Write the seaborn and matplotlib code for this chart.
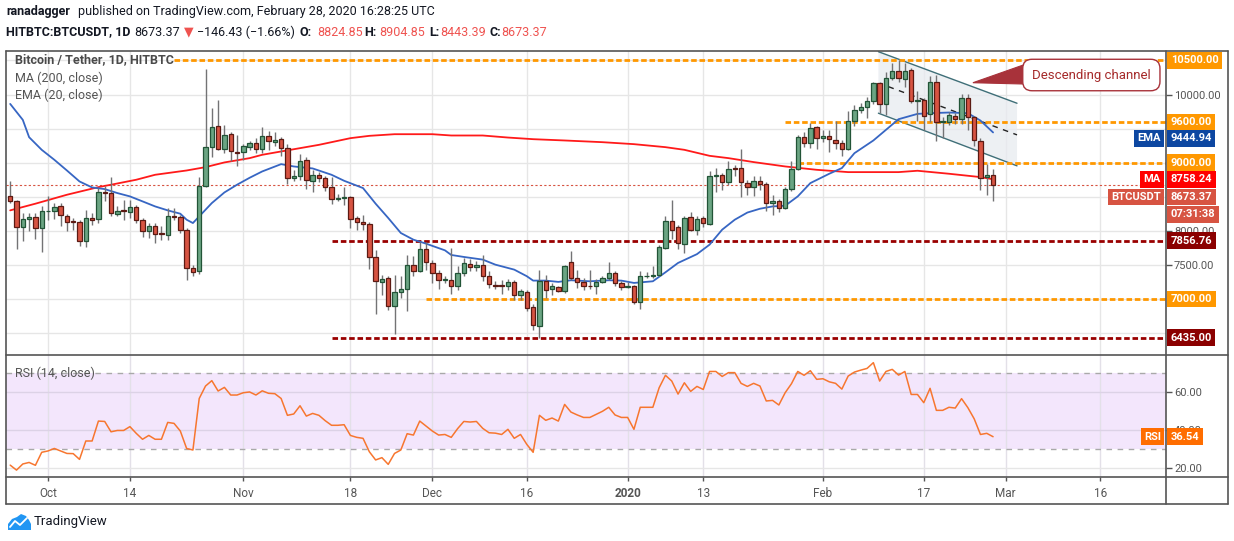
import numpy as np
import pandas as pd
import matplotlib
matplotlib.use("Agg")
import matplotlib.pyplot as plt
from matplotlib.patches import Polygon
from matplotlib.lines import Line2D
import seaborn as sns

W, H = 1234, 541

# ---- values (daily candles, first one = 2019-09-25) ----
first_day = "2019-09-25"
origin = "2019-10-01"

opens = [8516, 8434, 8058, 8175, 8204, 8043, 8292, 8300, 8370, 8224,
         8150, 8131, 7848, 8190, 8175, 8570, 8556, 8243, 8312, 8272,
         8350, 8155, 7994, 8077, 7970, 7940, 8224, 8204, 8019, 7453,
         7413, 8663, 9229, 9536, 9205, 9419, 9156, 9156, 9229, 9288,
         9200, 9390, 9302, 9346, 9214, 8775, 8809, 9039, 8736, 8819,
         8775, 8643, 8468, 8482, 8497, 8190, 8131, 8102, 7619, 7248,
         7311, 6896, 7106, 7155, 7502, 7409, 7736, 7531, 7384, 7287,
         7287, 7189, 7384, 7521, 7467, 7497, 7336, 7209, 7205, 7194,
         7253, 7057, 7106, 6886, 6603, 7272, 7150, 7179, 7116, 7550,
         7306, 7253, 7199, 7199, 7253, 7311, 7384, 7238, 7179, 7199,
         6955, 7336, 7346, 7350, 7750, 8141, 8053, 7809, 8199, 8019,
         8190, 8102, 8800, 8819, 8712, 8927, 8927, 8702, 8643, 8726,
         8683, 8409, 8434, 8336, 8614, 8907, 9375, 9297, 9522, 9361,
         9390, 9336, 9297, 9200, 9619, 9771, 9824, 9902, 10166, 9859,
         10239, 10342, 10225, 10356, 9912, 9922, 9712, 10180, 9605, 9605,
         9683, 9649, 9946, 9668, 9317, 8790, 8824.85]
closes = [8434, 8058, 8175, 8204, 8043, 8292, 8300, 8350, 8233, 8131,
          8131, 7848, 8190, 8155, 8570, 8560, 8263, 8292, 8292, 8350,
          8155, 7994, 8077, 7955, 7955, 8224, 8204, 8019, 7453, 7394,
          8663, 9229, 9522, 9205, 9405, 9170, 9136, 9244, 9288, 9200,
          9390, 9317, 9336, 9214, 8775, 8809, 9029, 8751, 8819, 8775,
          8643, 8468, 8482, 8497, 8175, 8131, 8102, 7619, 7272, 7297,
          6896, 7106, 7155, 7502, 7409, 7736, 7546, 7384, 7287, 7290,
          7189, 7384, 7531, 7467, 7497, 7336, 7223, 7194, 7194, 7248,
          7057, 7121, 6872, 6618, 7272, 7140, 7199, 7116, 7492, 7306,
          7253, 7199, 7195, 7253, 7311, 7384, 7238, 7179, 7189, 6955,
          7336, 7346, 7350, 7765, 8141, 8019, 7824, 8190, 8019, 8175,
          8116, 8809, 8819, 8712, 8912, 8912, 8712, 8643, 8736, 8683,
          8409, 8434, 8336, 8614, 8907, 9375, 9297, 9507, 9361, 9395,
          9346, 9288, 9200, 9619, 9771, 9824, 9902, 10166, 9859, 10239,
          10342, 10239, 10342, 9912, 9922, 9693, 10180, 9605, 9610, 9697,
          9649, 9946, 9668, 9331, 8775, 8819, 8673.37]
highs = [8726, 8450, 8263, 8263, 8263, 8360, 8507, 8409, 8409, 8253,
         8190, 8165, 8312, 8263, 8629, 8653, 8785, 8365, 8458, 8458,
         8385, 8190, 8116, 8116, 8068, 8336, 8336, 8238, 8043, 7506,
         8785, 10371, 9800, 9922, 9556, 9458, 9405, 9278, 9312, 9361,
         9522, 9468, 9449, 9375, 9278, 8887, 9131, 9083, 8887, 8858,
         8800, 8790, 8546, 8643, 8507, 8224, 8238, 8126, 7726, 7360,
         7336, 7360, 7336, 7653, 7628, 7843, 7833, 7580, 7433, 7336,
         7755, 7482, 7604, 7590, 7565, 7653, 7409, 7272, 7287, 7297,
         7277, 7150, 7131, 6935, 7433, 7360, 7238, 7199, 7506, 7702,
         7433, 7311, 7433, 7297, 7345, 7541, 7409, 7262, 7248, 7214,
         7409, 7394, 7492, 7799, 8214, 8458, 8092, 8214, 8277, 8214,
         8224, 8873, 8922, 8848, 9019, 8970, 9205, 8741, 8809, 8800,
         8712, 8531, 8468, 8643, 9019, 9410, 9458, 9590, 9541, 9483,
         9483, 9619, 9336, 9761, 9849, 9883, 9971, 10190, 10190, 10327,
         10459, 10508, 10468, 10386, 10054, 9946, 10273, 10283, 9678, 9751,
         9727, 10010, 10010, 9688, 9370, 8985, 8904.85]
lows = [8410, 7741, 7848, 7994, 7882, 7692, 8165, 8175, 8068, 7994,
        8019, 7775, 7760, 8092, 8116, 8434, 8214, 8214, 8165, 8190,
        8116, 7906, 7896, 7823, 7862, 7862, 8165, 7970, 7287, 7336,
        7374, 8643, 9083, 9190, 9141, 9019, 8946, 9044, 9190, 9141,
        9141, 9190, 9239, 9092, 8692, 8726, 8751, 8614, 8565, 8712,
        8580, 8395, 8434, 8385, 8043, 8009, 8019, 7443, 6784, 7067,
        6838, 6482, 7018, 6823, 7345, 7394, 7433, 7238, 7150, 7238,
        7082, 7140, 7336, 7409, 7409, 7262, 7165, 7150, 7077, 7140,
        6994, 6994, 6823, 6545, 6433, 7018, 7067, 7101, 7092, 7287,
        7165, 7131, 7150, 7077, 7238, 7287, 7199, 7140, 7165, 6931,
        6857, 7311, 7311, 7336, 7736, 7882, 7741, 7677, 7994, 7946,
        8058, 8092, 8565, 8595, 8678, 8809, 8492, 8521, 8507, 8605,
        8287, 8229, 8273, 8321, 8580, 8887, 9229, 9210, 9205, 9302,
        9151, 9200, 9092, 9180, 9532, 9727, 9663, 9859, 9737, 9702,
        10215, 10190, 10117, 9873, 9619, 9483, 9605, 9312, 9361, 9556,
        9571, 9571, 9483, 9239, 8604, 8521, 8443.39]

rsi = [21.7, 19.1, 22.3, 23.1, 21.6, 28.4, 29.1, 30.4, 29.1, 27.8,
       27.7, 24.7, 34.3, 34.3, 44.7, 44.5, 39.1, 39.8, 39.8, 41.8,
       38.3, 35.2, 37.2, 35.2, 35.2, 44.0, 43.5, 39.5, 30.4, 29.6,
       56.5, 63.0, 65.8, 60.4, 62.3, 58.3, 58.3, 59.5, 59.9, 58.3,
       60.5, 59.2, 59.0, 56.5, 47.7, 48.4, 52.7, 47.3, 48.7, 47.7,
       44.9, 42.5, 42.5, 42.8, 37.2, 36.2, 35.7, 28.7, 24.4, 25.6,
       22.1, 27.8, 29.6, 38.1, 37.4, 44.7, 42.1, 39.5, 37.4, 37.7,
       36.2, 40.7, 44.5, 44.2, 44.5, 40.9, 38.6, 38.4, 37.7, 40.4,
       35.7, 37.7, 32.5, 28.4, 47.7, 45.1, 46.3, 44.7, 53.4, 49.4,
       47.9, 46.6, 46.6, 48.2, 49.8, 51.9, 47.9, 46.6,
       46.6, 40.4, 51.9, 51.9, 51.9, 62.1, 68.6, 65.6, 58.8, 64.7,
       60.2, 62.8, 61.2, 70.6, 70.6, 68.0, 70.0, 70.0, 64.4, 62.8,
       64.4, 63.0, 55.2, 55.5, 53.1, 59.5, 64.2, 70.6, 68.6, 71.0,
       66.5, 66.8, 65.2, 64.4, 61.4, 68.2, 70.3, 71.3, 72.2, 75.2,
       65.6, 70.6, 71.7, 68.7, 70.6, 58.6, 58.6, 54.3, 61.8, 50.3,
       50.3, 51.9, 51.5, 56.4, 51.7, 45.9, 37.7, 38.3, 36.54]

# moving averages, sampled at candle indexes
ema_idx = [0, 2, 3, 5, 7, 9, 11, 13, 15, 17, 19, 21, 23, 25, 27, 28, 29, 30,
           32, 34, 36, 38, 40, 43, 45, 48, 51, 53, 56, 58, 60, 62, 64, 66, 69,
           70, 72, 75, 77, 80, 82, 83, 85, 87, 89, 92, 95, 97, 99, 102, 104,
           106, 109, 111, 113, 115, 117, 119, 121, 123, 125, 127, 130, 132,
           134, 137, 139, 141, 144, 146, 149, 152, 154, 156]
ema_val = [9863, 9629, 9375, 9190, 9044, 8887, 8726, 8638, 8614, 8556, 8507,
           8434, 8360, 8302, 8253, 8165, 8116, 8214, 8409, 8565, 8678, 8780,
           8873, 8980, 8946, 8917, 8824, 8736, 8629, 8400, 8190, 7970, 7872,
           7814, 7716, 7648, 7619, 7580, 7506, 7433, 7336, 7272, 7272, 7253,
           7277, 7262, 7277, 7272, 7238, 7262, 7394, 7531, 7660, 7799, 8019,
           8165, 8270, 8326, 8360, 8370, 8507, 8702, 8839, 8922, 9141, 9327,
           9483, 9639, 9717, 9727, 9737, 9727, 9619, 9444.94]
ma_idx = [0, 4, 9, 14, 16, 20, 23, 28, 31, 34, 38, 40, 43, 49, 54, 57, 61, 67,
          70, 75, 79, 83, 88, 94, 99, 104, 107, 111, 114, 118, 123, 128, 133,
          141, 144, 149, 154, 156]
ma_val = [8302, 8400, 8531, 8643, 8678, 8751, 8824, 8887, 8936, 9005, 9068,
          9117, 9166, 9263, 9361, 9395, 9419, 9419, 9400, 9400, 9370, 9346,
          9327, 9302, 9273, 9229, 9190, 9102, 9068, 9010, 8946, 8897, 8863,
          8863, 8883, 8839, 8790, 8758.24]

# horizontal levels (value, first day drawn)
orange_levels = [10500, 9600, 9000, 7000]
orange_from = ["2019-10-21", "2020-01-26", "2020-01-28", "2019-11-30"]
dark_levels = [7856.76, 6435]
dark_from = ["2019-11-15", "2019-11-15"]

# descending channel (days after Oct 1, price)
chan_x = [131.8, 153.8]
chan_top = [10629, 9873]
chan_bot = [9727, 8955]
mid_x = [133.4, 153.8]
mid_y = [10116, 9409]

tick_dates = ["2019-10-01", "2019-10-14", "2019-11-01", "2019-11-18",
              "2019-12-01", "2019-12-16", "2020-01-01", "2020-01-13",
              "2020-02-01", "2020-02-17", "2020-03-01", "2020-03-16"]
tick_labels = ["Oct", "14", "Nov", "18", "Dec", "16", "2020", "13",
               "Feb", "17", "Mar", "16"]

# ---- styling ----
sns.set_theme(style="white")
plt.rcParams['font.family'] = ['Roboto', 'DejaVu Sans']

UP, DOWN = "#6ba583", "#d75442"
UP_EDGE, DOWN_EDGE = "#225437", "#5b1a13"
ORANGE, DARKRED = "#ff9800", "#990000"

def day(d):
    return (pd.Timestamp(d) - pd.Timestamp(origin)).days

start = day(first_day)
x = np.arange(len(opens)) + start
o, c, hi, lo = map(np.array, (opens, closes, highs, lows))
up = c >= o

def fx(px):
    return px / W

def fy(py):
    return 1 - py / H

L, R = 6.3, 1165.7
T_MAIN, B_MAIN, B_RSI, B_ALL, R_ALL = 50.6, 355.0, 477.0, 504.3, 1227.7
XMIN, XMAX = -6.62, 177.4

fig = plt.figure(figsize=(W / 100, H / 100), dpi=100)
fig.patch.set_facecolor("white")
ax = fig.add_axes([fx(L), fy(B_MAIN), fx(R) - fx(L), fy(T_MAIN) - fy(B_MAIN)])
ax2 = fig.add_axes([fx(L), fy(B_RSI), fx(R) - fx(L), fy(B_MAIN) - fy(B_RSI)])

ticks_x = [day(d) for d in tick_dates]

# ---- main price panel ----
ax.set_xlim(XMIN, XMAX)
ax.set_ylim(6181, 10645)
for t in ticks_x:
    ax.axvline(t, color="#e6e6e6", lw=1, zorder=0)
for g in np.arange(6500, 10501, 500):
    ax.axhline(g, color="#e6e6e6", lw=1, zorder=0)

# channel
poly = Polygon([(chan_x[0], chan_top[0]), (chan_x[1], chan_top[1]),
                (chan_x[1], chan_bot[1]), (chan_x[0], chan_bot[0])],
               closed=True, fc="#e8ebf0", ec="none", alpha=0.75, zorder=1)
ax.add_patch(poly)
ax.plot(chan_x, chan_top, color="#3f6f78", lw=1, zorder=2)
ax.plot(chan_x, chan_bot, color="#3f6f78", lw=1, zorder=2)
ax.plot(mid_x, mid_y, color="#222222", lw=1, ls=(0, (4, 4)), zorder=2)

# levels
for lvl, f in zip(orange_levels, orange_from):
    ax.hlines(lvl, day(f), XMAX, color=ORANGE, lw=2, ls=(0, (2, 1)), zorder=2)
for lvl, f in zip(dark_levels, dark_from):
    ax.hlines(lvl, day(f), XMAX, color=DARKRED, lw=2, ls=(0, (2, 1)), zorder=2)
ax.axhline(closes[-1], color=DOWN, lw=0.8, ls=(0, (2, 2)), zorder=2)

# moving averages
sns.lineplot(x=x[ma_idx], y=ma_val, ax=ax, color="#ff1a1a", lw=1.3, zorder=3)
sns.lineplot(x=x[ema_idx], y=ema_val, ax=ax, color="#3766c3", lw=1.3, zorder=3)

# candles
ax.vlines(x, lo, hi, color="#737375", lw=1, zorder=4)
ax.bar(x[up], (c - o)[up], bottom=o[up], width=0.7, color=UP,
       edgecolor=UP_EDGE, linewidth=0.9, zorder=5)
ax.bar(x[~up], (c - o)[~up], bottom=o[~up], width=0.7, color=DOWN,
       edgecolor=DOWN_EDGE, linewidth=0.9, zorder=5)

# callout
ax.add_patch(Polygon([(146.8, 10174), (154.8, 10434), (154.8, 10155)],
                     closed=True, fc="#a8323a", ec="#a8323a", lw=0.8,
                     zorder=6))
ax.text(165.6, 10287, "Descending channel", ha="center", va="center",
        fontsize=9.5, color="#a52a2a", zorder=7,
        bbox=dict(boxstyle="round,pad=0.7", fc="white", ec="#a8323a", lw=1))

ax.set_xticks([])
ax.yaxis.tick_right()
ax.set_yticks([10000, 8000, 7500])
ax.set_yticklabels(["10000.00", "8000.00", "7500.00"])
ax.tick_params(axis="y", length=4, width=1, color="#555555", labelsize=8,
               labelcolor="#555555", pad=2, right=True)
for s in ax.spines.values():
    s.set_visible(False)
ax.set_xlabel("")
ax.set_ylabel("")


def tag(a, y, text, fc, dy=0, side="right", z=10):
    if side == "right":
        xt, ha = 3.6, "left"
    else:
        xt, ha = -3.4, "right"
    a.annotate(text, xy=(1, y), xycoords=a.get_yaxis_transform(),
               xytext=(xt, dy), textcoords="offset points", ha=ha, va="center",
               fontsize=8, fontweight="bold", color="white", zorder=z,
               annotation_clip=False,
               bbox=dict(boxstyle="square,pad=0.3", fc=fc, ec="none"))


for lvl in orange_levels:
    tag(ax, lvl, f"{lvl:.2f}", ORANGE)
for lvl in dark_levels:
    tag(ax, lvl, f"{lvl:.2f}", "#8b0000", z=11)
tag(ax, ema_val[-1], f"{ema_val[-1]:.2f}", "#0d47a1", dy=-4.3)
tag(ax, ema_val[-1], "EMA", "#0d47a1", dy=-4.3, side="left")
tag(ax, ma_val[-1], f"{ma_val[-1]:.2f}", "#ff0000")
tag(ax, ma_val[-1], "MA", "#ff0000", side="left")
tag(ax, closes[-1], f"{closes[-1]:.2f}", DOWN, dy=-8.6)
tag(ax, closes[-1], "BTCUSDT", DOWN, dy=-8.6, side="left")
tag(ax, closes[-1], "07:31:38", DOWN, dy=-21)

# ---- RSI panel ----
ax2.set_xlim(XMIN, XMAX)
ax2.set_ylim(15.5, 79.2)
ax2.axhspan(30, 70, color="#f3e6fc", zorder=0, lw=0)
for t in ticks_x:
    ax2.axvline(t, color="#e3e0e8", lw=1, zorder=1)
for g in [40, 60]:
    ax2.axhline(g, color="#dcd2e6", lw=1, zorder=1)
ax2.axhline(20, color="#e6e6e6", lw=1, zorder=1)
for g in [30, 70]:
    ax2.axhline(g, color="#a9a9a9", lw=1, ls=(0, (4, 4)), zorder=2)
sns.lineplot(x=x, y=rsi, ax=ax2, color="#f7762f", lw=1.1, zorder=3)

ax2.yaxis.tick_right()
ax2.set_yticks([20, 40, 60])
ax2.set_yticklabels(["20.00", "40.00", "60.00"])
ax2.tick_params(axis="y", length=4, width=1, color="#555555", labelsize=8,
                labelcolor="#555555", pad=2, right=True)
ax2.set_xticks(ticks_x)
ax2.set_xticklabels(tick_labels)
ax2.tick_params(axis="x", length=3, width=1, color="#555555", labelsize=8.5,
                labelcolor="#555555", pad=4, bottom=True, direction="out")
ax2.get_xticklabels()[6].set_fontweight("bold")
for s in ax2.spines.values():
    s.set_visible(False)
ax2.set_xlabel("")
ax2.set_ylabel("")
tag(ax2, rsi[-1], f"{rsi[-1]:.2f}", "#ff6d00", z=12)
tag(ax2, rsi[-1], "RSI", "#ff6d00", side="left", z=12)

# ---- frame ----
frame = "#555555"
for xs, ys in [([L, R_ALL], [T_MAIN, T_MAIN]), ([L, R_ALL], [B_ALL, B_ALL]),
               ([L, L], [T_MAIN, B_ALL]), ([R_ALL, R_ALL], [T_MAIN, B_ALL]),
               ([R, R], [T_MAIN, B_ALL]), ([L, R_ALL], [B_MAIN, B_MAIN]),
               ([L, R_ALL], [B_RSI, B_RSI])]:
    fig.add_artist(Line2D([fx(v) for v in xs], [fy(v) for v in ys],
                          color=frame, lw=1.2))

# ---- texts ----
fig.text(fx(15), fy(60), "Bitcoin / Tether, 1D, HITBTC", fontsize=9,
         fontweight="bold", color="#4a4a4a", va="center")
fig.text(fx(15), fy(78), "MA (200, close)", fontsize=9, color="#555555",
         va="center")
fig.text(fx(15), fy(95), "EMA (20, close)", fontsize=9, color="#555555",
         va="center")
fig.text(fx(15), fy(373), "RSI (14, close)", fontsize=9, color="#555555",
         va="center")

fig.text(fx(6), fy(12), "ranadagger", fontsize=9, fontweight="bold",
         color="#131722", va="center")
fig.text(fx(78), fy(12),
         "published on TradingView.com, February 28, 2020 16:28:25 UTC",
         fontsize=9, color="#131722", va="center")

RED = "#ef5350"
header = [("HITBTC:BTCUSDT, 1D", 6, "#131722", "bold"),
          ("8673.37", 134, "#131722", "normal"),
          ("\u25BC", 184, RED, "normal"),
          ("\u2212146.43 (\u22121.66%)", 197, "#131722", "normal"),
          ("O:", 300, "#131722", "bold"), ("8824.85", 317, RED, "normal"),
          ("H:", 364, "#131722", "bold"), ("8904.85", 379, RED, "normal"),
          ("L:", 429, "#131722", "bold"), ("8443.39", 440, RED, "normal"),
          ("C:", 489, "#131722", "bold"), ("8673.37", 501, RED, "normal")]
for txt, px, col, wt in header:
    fig.text(fx(px), fy(32), txt, fontsize=9, color=col, fontweight=wt,
             va="center")

# TradingView logo
fig.add_artist(Polygon([(fx(8), fy(530)), (fx(8), fy(524)), (fx(12), fy(519)),
                        (fx(17), fy(517)), (fx(21), fy(514)), (fx(26), fy(516)),
                        (fx(29), fy(520)), (fx(31), fy(524)), (fx(31), fy(530))],
                       closed=True, fc="#2196f3", ec="none",
                       transform=fig.transFigure))
fig.add_artist(Line2D([fx(10), fx(15), fx(20), fx(27)],
                      [fy(527), fy(521), fy(525), fy(518)],
                      color="white", lw=1.3))
fig.text(fx(34), fy(522), "TradingView", fontsize=9.5, color="#131722",
         va="center")

fig.savefig("out.png", dpi=100, facecolor="white")
